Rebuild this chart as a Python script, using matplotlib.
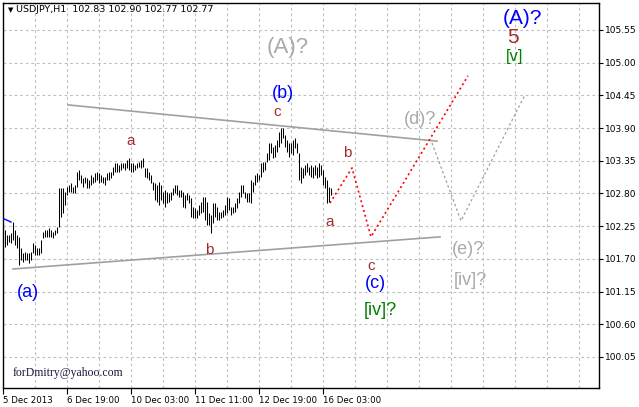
import matplotlib
matplotlib.use('Agg')
import matplotlib.pyplot as plt
import numpy as np

# ---------------- data (USDJPY H1 bars) ----------------
highs = [102.19, 102.10, 102.10, 102.14, 102.32, 102.19, 102.10, 102.07, 101.88, 101.80,
         101.82, 101.80, 101.80, 101.82, 101.97, 101.93, 101.88, 101.88, 102.02, 102.15,
         102.19, 102.19, 102.22, 102.19, 102.15, 102.19, 102.24, 102.89, 102.89, 102.89,
         102.83, 102.91, 102.94, 102.98, 102.91, 102.94, 103.16, 103.20, 103.11, 103.06,
         103.08, 103.06, 103.03,
         103.11, 103.08, 103.14, 103.16, 103.14, 103.11, 103.08, 103.08, 103.14, 103.16,
         103.16, 103.25, 103.31, 103.31, 103.28, 103.31, 103.31, 103.31, 103.36, 103.40,
         103.31, 103.31, 103.28, 103.31, 103.33, 103.36, 103.40, 103.23, 103.23, 103.16,
         103.11, 102.99, 102.98, 102.94, 102.99, 102.94, 102.83, 102.86, 102.83, 102.81,
         102.83, 102.89,
         102.94, 102.94, 102.86, 102.86, 102.83, 102.77, 102.81, 102.77, 102.72, 102.57,
         102.56, 102.52, 102.61, 102.66, 102.74, 102.74, 102.66, 102.47, 102.44, 102.64,
         102.64, 102.57, 102.49, 102.49, 102.52, 102.61, 102.74, 102.72, 102.57, 102.57,
         102.64, 102.72, 102.83, 102.94, 102.94, 102.83, 102.81, 102.81, 103.03, 102.99,
         103.11, 103.14, 103.11,
         103.31, 103.33, 103.33, 103.48, 103.65, 103.65, 103.58, 103.62, 103.70, 103.83,
         103.90, 103.90, 103.78, 103.70, 103.65, 103.65, 103.70, 103.73, 103.65, 103.48,
         103.25, 103.23, 103.28, 103.31, 103.25, 103.28, 103.25, 103.28, 103.25, 103.31,
         103.28, 103.20, 103.08, 103.03, 102.91, 102.90]
lows = [101.90, 101.93, 101.98, 101.97, 102.02, 101.93, 101.88, 101.60, 101.68, 101.65,
        101.68, 101.68, 101.63, 101.68, 101.80, 101.77, 101.77, 101.77, 101.80, 102.05,
        102.07, 102.07, 102.07, 102.07, 102.05, 102.10, 102.14, 102.24, 102.40, 102.47,
        102.61, 102.77, 102.83, 102.83, 102.81, 102.81, 102.91, 103.03, 102.98, 102.91,
        102.98, 102.89, 102.89,
        102.94, 102.98, 102.99, 103.03, 102.98, 102.99, 102.98, 102.94, 103.03, 103.03,
        103.06, 103.11, 103.16, 103.16, 103.16, 103.20, 103.23, 103.20, 103.23, 103.20,
        103.16, 103.16, 103.20, 103.23, 103.25, 103.23, 103.25, 103.08, 103.06, 103.03,
        102.98, 102.86, 102.69, 102.66, 102.61, 102.69, 102.64, 102.57, 102.64, 102.66,
        102.69, 102.77,
        102.81, 102.77, 102.74, 102.74, 102.57, 102.56, 102.69, 102.64, 102.40, 102.39,
        102.39, 102.39, 102.44, 102.47, 102.49, 102.35, 102.27, 102.27, 102.14, 102.30,
        102.40, 102.35, 102.35, 102.39, 102.40, 102.44, 102.47, 102.52, 102.44, 102.47,
        102.49, 102.56, 102.64, 102.74, 102.81, 102.72, 102.66, 102.66, 102.64, 102.83,
        102.94, 102.99, 103.03,
        103.08, 103.16, 103.20, 103.33, 103.36, 103.48, 103.40, 103.41, 103.50, 103.58,
        103.65, 103.73, 103.58, 103.50, 103.41, 103.48, 103.45, 103.57, 103.48, 103.03,
        102.98, 103.06, 103.11, 103.16, 103.11, 103.08, 103.06, 103.11, 103.06, 103.08,
        103.11, 102.94, 102.89, 102.64, 102.66, 102.77]

# indicator stub at the left edge
blue_x = [-1, 3]
blue_y = [102.38, 102.32]

# triangle lines (bar index, price)
upper_x = [31.5, 216]
upper_y = [104.29, 103.68]
lower_x = [4, 217.5]
lower_y = [101.53, 102.07]

# projected paths
red_x = [162.5, 173.5, 183, 231.5]
red_y = [102.64, 103.23, 102.07, 104.78]
gray_x = [213.5, 228, 260]
gray_y = [103.65, 102.34, 104.46]

# wave labels: text, bar index, price, color, size
labels = [
    ('(a)', 11.5, 101.14, '#0000FF', 13),
    ('a', 63, 103.68, '#A52A2A', 11),
    ('b', 102, 101.85, '#A52A2A', 11),
    ('c', 136, 104.17, '#A52A2A', 11),
    ('(b)', 139, 104.49, '#0000FF', 13),
    ('a', 162.5, 102.32, '#A52A2A', 11),
    ('b', 171, 103.48, '#A52A2A', 11),
    ('c', 183, 101.58, '#A52A2A', 11),
    ('(c)', 185, 101.29, '#0000FF', 13),
    ('[iv]?', 187.5, 100.84, '#008000', 13),
    ('(A)?', 141.5, 105.26, '#A9A9A9', 16),
    ('(d)?', 207.5, 104.04, '#A9A9A9', 13),
    ('(e)?', 231.5, 101.85, '#A9A9A9', 13),
    ('[iv]?', 232.5, 101.33, '#A9A9A9', 13),
    ('(A)?', 258.5, 105.75, '#0000FF', 15),
    ('5', 254, 105.42, '#A52A2A', 15),
    ('[v]', 255, 105.10, '#008000', 12),
]

price_ticks = [100.05, 100.60, 101.15, 101.70, 102.25, 102.80, 103.35, 103.90, 104.45, 105.00, 105.55]
date_pos = [-1, 31, 63, 95, 127, 159]
date_labels = ['5 Dec 2013', '6 Dec 19:00', '10 Dec 03:00', '11 Dec 11:00', '12 Dec 19:00', '16 Dec 03:00']

# ---------------- figure ----------------
W, H = 639, 407
fig = plt.figure(figsize=(W / 100, H / 100), dpi=100)
fig.patch.set_facecolor('white')
ax = fig.add_axes([3 / W, 19 / H, 596 / W, 385 / H])
ax.set_facecolor('white')
ax.set_xlim(-1, 297)
ax.set_ylim(99.528, 106.004)

grid_kw = dict(color='#C0C0C0', lw=0.8, ls=(0, (2.5, 2.5)), zorder=0)
for p in price_ticks:
    ax.axhline(p, **grid_kw)
for gx in range(15, 297, 16):
    ax.axvline(gx, **grid_kw)

idx = np.arange(len(highs))
ax.vlines(idx, lows, highs, color='black', lw=0.75, zorder=3)

ax.plot(blue_x, blue_y, color='#0000FF', lw=1.0, zorder=3)
ax.plot(upper_x, upper_y, color='#A0A0A0', lw=1.2, zorder=2)
ax.plot(lower_x, lower_y, color='#A0A0A0', lw=1.2, zorder=2)
ax.plot(red_x, red_y, color='#FF0000', lw=1.2, ls=(0, (1.2, 1.8)), zorder=4)
ax.plot(gray_x, gray_y, color='#A0A0A0', lw=0.9, ls=(0, (2, 2)), zorder=2)

for t, x, y, c, s in labels:
    ax.text(x, y, t, color=c, fontsize=s, ha='center', va='center',
            family='Liberation Sans', zorder=5)

# axes styling
for sp in ax.spines.values():
    sp.set_color('black')
    sp.set_linewidth(1.0)
ax.yaxis.tick_right()
ax.set_yticks(price_ticks)
ax.set_yticklabels([f'{p:.2f}' for p in price_ticks])
ax.tick_params(axis='y', direction='out', length=3, width=0.8, pad=1.5,
               labelsize=6.5, colors='black')
ax.set_xticks(date_pos)
ax.set_xticklabels(date_labels)
ax.tick_params(axis='x', direction='out', length=4, width=0.8, pad=2,
               labelsize=6.2, colors='black')
for lab in ax.get_xticklabels():
    lab.set_horizontalalignment('left')

# header and watermark
ax.text(0.008, 0.982, '\u25BC', transform=ax.transAxes, fontsize=5,
        ha='left', va='center', color='black')
ax.text(0.022, 0.982, 'USDJPY,H1  102.83 102.90 102.77 102.77', transform=ax.transAxes,
        fontsize=6.8, ha='left', va='center', color='black')
ax.text(4, 99.78, 'forDmitry@yahoo.com', fontsize=8.5, family='Liberation Serif',
        color='#1a1a40', ha='left', va='center')

fig.savefig('out.png', dpi=100, facecolor='white')
